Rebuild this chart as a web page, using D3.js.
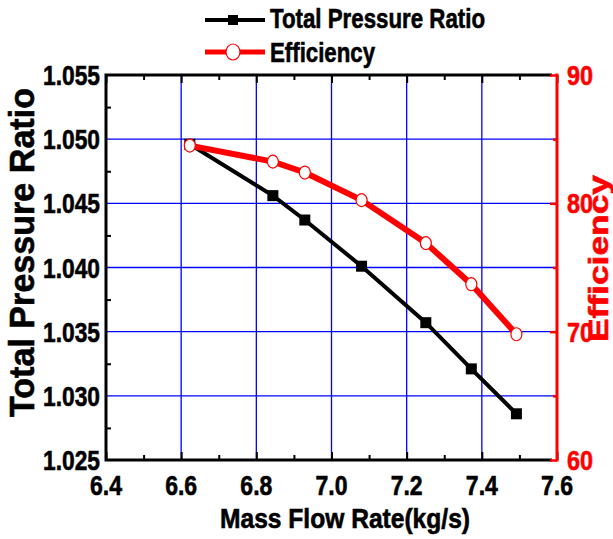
<!DOCTYPE html>
<html>
<head>
<meta charset="utf-8">
<script src="https://cdn.jsdelivr.net/npm/d3@7"></script>
<style>
  body { margin: 0; background: #fff; }
  svg { display: block; }
  text { font-family: "Liberation Sans", Arial, sans-serif; font-weight: bold; stroke-width: 0.6px; }
</style>
</head>
<body>
<div class="chart-area"></div>
<script>
const width = 613
const height = 539
const plot = { left: 106, right: 557, top: 75, bottom: 460 }

// data
const massFlow = [6.623, 6.844, 6.929, 7.080, 7.251, 7.372, 7.492]
const pressureRatio = [1.0496, 1.0456, 1.0437, 1.0401, 1.0357, 1.0321, 1.0286]
const efficiency = [84.5, 83.25, 82.4, 80.25, 76.9, 73.7, 69.8]

const xTicks = [6.4, 6.6, 6.8, 7.0, 7.2, 7.4, 7.6]
const xMinor = [6.5, 6.7, 6.9, 7.1, 7.3, 7.5]
const yLeftTicks = [1.025, 1.030, 1.035, 1.040, 1.045, 1.050, 1.055]
const yLeftMinor = [1.0275, 1.0325, 1.0375, 1.0425, 1.0475, 1.0525]
const yRightTicks = [60, 70, 80, 90]
const yRightMinor = [65, 75, 85]
const seriesNames = ['Total Pressure Ratio', 'Efficiency']

const svg = d3.select('.chart-area')
  .append('svg')
  .attr('width', width)
  .attr('height', height)

const x = d3.scaleLinear().domain([6.4, 7.6]).range([plot.left, plot.right])
const yL = d3.scaleLinear().domain([1.025, 1.055]).range([plot.bottom, plot.top])
const yR = d3.scaleLinear().domain([60, 90]).range([plot.bottom, plot.top])

// grid
const grid = svg.append('g').attr('stroke', '#0000ff').attr('stroke-width', 1.3)
grid.selectAll('line.gx')
  .data(xTicks.slice(1, -1))
  .join('line')
  .attr('x1', d => x(d)).attr('x2', d => x(d))
  .attr('y1', plot.top).attr('y2', plot.bottom)
grid.selectAll('line.gy')
  .data(yLeftTicks.slice(1, -1))
  .join('line')
  .attr('x1', plot.left).attr('x2', plot.right)
  .attr('y1', d => yL(d)).attr('y2', d => yL(d))

function styleTicks(g, color, w) {
  g.select('.domain').remove()
  g.selectAll('.tick line').attr('stroke', color).attr('stroke-width', w)
  g.selectAll('.tick text').remove()
}

// bottom axis
svg.append('g')
  .attr('transform', `translate(0,${plot.bottom})`)
  .call(d3.axisBottom(x).tickValues(xTicks).tickSizeInner(-8).tickSizeOuter(0))
  .call(g => styleTicks(g, '#000', 2))
svg.append('g')
  .attr('transform', `translate(0,${plot.bottom})`)
  .call(d3.axisBottom(x).tickValues(xMinor).tickSizeInner(-5).tickSizeOuter(0))
  .call(g => styleTicks(g, '#000', 2))
// top axis
svg.append('g')
  .attr('transform', `translate(0,${plot.top})`)
  .call(d3.axisTop(x).tickValues(xTicks).tickSizeInner(-8).tickSizeOuter(0))
  .call(g => styleTicks(g, '#000', 2))
svg.append('g')
  .attr('transform', `translate(0,${plot.top})`)
  .call(d3.axisTop(x).tickValues(xMinor).tickSizeInner(-5).tickSizeOuter(0))
  .call(g => styleTicks(g, '#000', 2))
// left axis minor
svg.append('g')
  .attr('transform', `translate(${plot.left},0)`)
  .call(d3.axisLeft(yL).tickValues(yLeftMinor).tickSizeInner(-5).tickSizeOuter(0))
  .call(g => styleTicks(g, '#000', 2))

// frame (black parts)
svg.append('path')
  .attr('d', `M${plot.right - 5},${plot.top} H${plot.left} V${plot.bottom} H${plot.right - 5}`)
  .attr('fill', 'none')
  .attr('stroke', '#000')
  .attr('stroke-width', 3)

// right axis (red)
svg.append('g')
  .attr('transform', `translate(${plot.right},0)`)
  .call(d3.axisRight(yR).tickValues(yRightTicks).tickSizeInner(-7).tickSizeOuter(0))
  .call(g => styleTicks(g, '#ff0000', 2.5))
svg.append('g')
  .attr('transform', `translate(${plot.right},0)`)
  .call(d3.axisRight(yR).tickValues(yRightMinor).tickSizeInner(-4).tickSizeOuter(0))
  .call(g => styleTicks(g, '#ff0000', 2.5))
svg.append('line')
  .attr('x1', plot.right).attr('x2', plot.right)
  .attr('y1', plot.top - 1.5).attr('y2', plot.bottom + 1.5)
  .attr('stroke', '#ff0000').attr('stroke-width', 3)

// tick labels
svg.append('g').selectAll('text')
  .data(xTicks)
  .join('text')
  .attr('x', d => x(d))
  .attr('y', 495)
  .attr('text-anchor', 'middle')
  .attr('font-size', 28)
  .attr('stroke', '#000')
  .attr('textLength', 32)
  .attr('lengthAdjust', 'spacingAndGlyphs')
  .text(d => d3.format('.1f')(d))

svg.append('g').selectAll('text')
  .data(yLeftTicks)
  .join('text')
  .attr('x', 100)
  .attr('y', d => yL(d) + 10)
  .attr('text-anchor', 'end')
  .attr('font-size', 28)
  .attr('stroke', '#000')
  .attr('textLength', 57)
  .attr('lengthAdjust', 'spacingAndGlyphs')
  .text(d => d3.format('.3f')(d))

svg.append('g').selectAll('text')
  .data(yRightTicks)
  .join('text')
  .attr('x', 567)
  .attr('y', d => yR(d) + 10)
  .attr('fill', '#ff0000')
  .attr('stroke', '#ff0000')
  .attr('font-size', 28)
  .attr('textLength', 26)
  .attr('lengthAdjust', 'spacingAndGlyphs')
  .text(d => d)

// axis titles
svg.append('text')
  .attr('x', 345)
  .attr('y', 528)
  .attr('text-anchor', 'middle')
  .attr('font-size', 28)
  .attr('stroke', '#000')
  .attr('textLength', 250)
  .attr('lengthAdjust', 'spacingAndGlyphs')
  .text('Mass Flow Rate(kg/s)')

svg.append('text')
  .attr('transform', 'translate(34,252.5) rotate(-90)')
  .attr('text-anchor', 'middle')
  .attr('font-size', 35)
  .attr('stroke', '#000')
  .attr('textLength', 329)
  .attr('lengthAdjust', 'spacingAndGlyphs')
  .text('Total Pressure Ratio')

svg.append('text')
  .attr('transform', 'translate(608,258.5) rotate(-90)')
  .attr('text-anchor', 'middle')
  .attr('fill', '#ff0000')
  .attr('stroke', '#ff0000')
  .attr('font-size', 27)
  .attr('textLength', 167)
  .attr('lengthAdjust', 'spacingAndGlyphs')
  .text('Efficiency')

// series
const pressureLine = d3.line().x(d => x(d[0])).y(d => yL(d[1]))
const effLine = d3.line().x(d => x(d[0])).y(d => yR(d[1]))
const pressurePts = d3.zip(massFlow, pressureRatio)
const effPts = d3.zip(massFlow, efficiency)

svg.append('path')
  .datum(pressurePts)
  .attr('d', pressureLine)
  .attr('fill', 'none')
  .attr('stroke', '#000')
  .attr('stroke-width', 4)
svg.append('g').selectAll('rect')
  .data(pressurePts)
  .join('rect')
  .attr('x', d => x(d[0]) - 5.5)
  .attr('y', d => yL(d[1]) - 5.5)
  .attr('width', 11)
  .attr('height', 11)
  .attr('fill', '#000')

svg.append('path')
  .datum(effPts)
  .attr('d', effLine)
  .attr('fill', 'none')
  .attr('stroke', '#ff0000')
  .attr('stroke-width', 6)
  .attr('stroke-linejoin', 'round')
svg.append('g').selectAll('ellipse')
  .data(effPts)
  .join('ellipse')
  .attr('cx', d => x(d[0]))
  .attr('cy', d => yR(d[1]))
  .attr('rx', 5.5)
  .attr('ry', 6.5)
  .attr('fill', '#fff')
  .attr('stroke', '#ff0000')
  .attr('stroke-width', 1.2)

// legend
const legend = svg.append('g')
legend.append('line')
  .attr('x1', 205).attr('x2', 265).attr('y1', 20).attr('y2', 20)
  .attr('stroke', '#000').attr('stroke-width', 4)
legend.append('rect')
  .attr('x', 228).attr('y', 15).attr('width', 10).attr('height', 10)
  .attr('fill', '#000')
legend.append('text')
  .attr('x', 270).attr('y', 28)
  .attr('font-size', 28)
  .attr('stroke', '#000')
  .attr('textLength', 215)
  .attr('lengthAdjust', 'spacingAndGlyphs')
  .text(seriesNames[0])
legend.append('line')
  .attr('x1', 205).attr('x2', 265).attr('y1', 52).attr('y2', 52)
  .attr('stroke', '#ff0000').attr('stroke-width', 5)
legend.append('ellipse')
  .attr('cx', 233).attr('cy', 52).attr('rx', 7).attr('ry', 8)
  .attr('fill', '#fff').attr('stroke', '#ff0000').attr('stroke-width', 1.2)
legend.append('text')
  .attr('x', 270).attr('y', 62)
  .attr('font-size', 28)
  .attr('stroke', '#000')
  .attr('textLength', 105)
  .attr('lengthAdjust', 'spacingAndGlyphs')
  .text(seriesNames[1])
</script>
</body>
</html>
